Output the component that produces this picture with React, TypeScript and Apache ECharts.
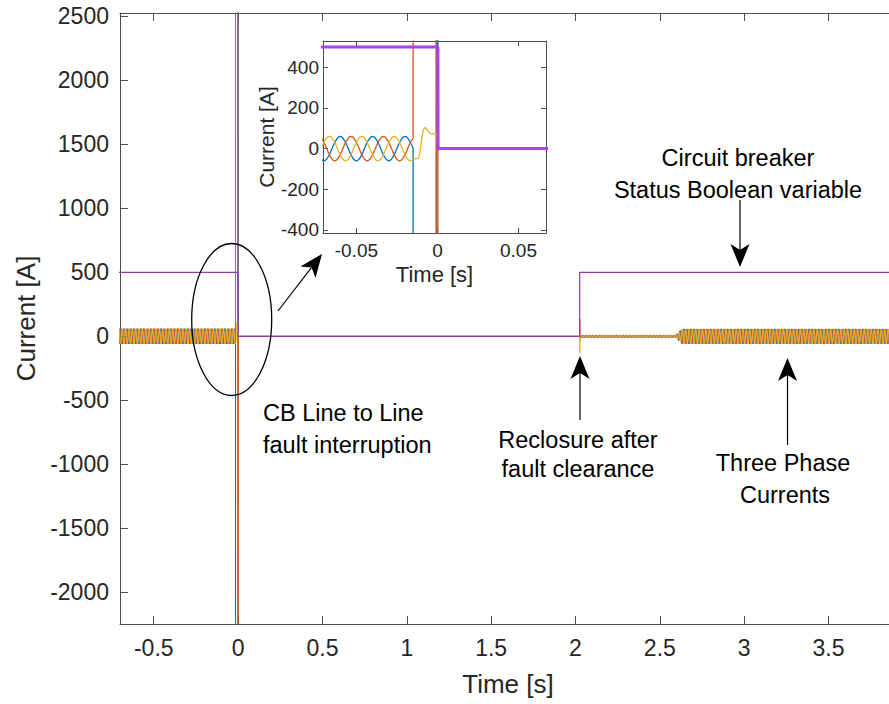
import React, { useEffect, useRef } from "react";
import * as echarts from "echarts";

// ---------- axis ticks ----------
const xTickValues = [-0.5, 0, 0.5, 1, 1.5, 2, 2.5, 3, 3.5];
const yTickValues = [-2000, -1500, -1000, -500, 0, 500, 1000, 1500, 2000, 2500];
const insetXTickValues = [-0.05, 0, 0.05];
const insetYTickValues = [-400, -200, 0, 200, 400];

// ---------- one 20 ms cycle of a phase current (A), 24 samples ----------
const cycleCurrent = [60, 58, 52, 42, 30, 16, 0, -16, -30, -42, -52, -58, -60, -58, -52, -42, -30, -16, 0, 16, 30, 42, 52, 58];
const cyclePeriod = 0.02;
// sample offsets of the three phases: blue, orange, yellow
const phaseOffsets = [0, 16, 8];

// ---------- amplitude envelope (A), step changes ----------
const envelopeStart = [-0.72, 2.025, 2.6, 2.61, 2.62, 2.63];
const envelopeAmp = [60, 11, 20, 34, 47, 58];

const waveStart = -0.72;
const faultTime = -0.015;
const recloseWaveStart = 2.0265;
const waveEnd = 3.95;

// ---------- transients after the fault (time s, current A) ----------
const blueFault = [[-0.0149, -4000], [-0.0004, -4000], [-0.0003, 4000], [0.0002, 4000], [0.0003, 0], [2.025, 0]];
const orangeFault = [[-0.0149, 4000], [-0.0009, 4000], [-0.0008, -4000], [0.0002, -4000], [0.0003, 0], [2.025, 0]];
const yellowFault = [
  [-0.0149, -52], [-0.0118, -48], [-0.0108, -20], [-0.0098, 40], [-0.0088, 88], [-0.0079, 104],
  [-0.0068, 98], [-0.0055, 82], [-0.0042, 74], [-0.003, 72], [-0.0015, 73], [-0.0004, 72], [0.0, 0], [2.025, 0],
];
// ---------- reclosure spikes ----------
const blueReclose = [[2.0254, -40], [2.026, 8]];
const orangeReclose = [[2.0254, 135], [2.026, 30]];
const yellowReclose = [[2.0254, -130], [2.026, -25]];

// ---------- circuit breaker status ----------
const breakerStatus = [[-0.72, 500], [0.0003, 500], [0.0004, 0], [2.025, 0], [2.0251, 500], [3.95, 500]];

const colors = { blue: "#0072BD", orange: "#D95319", yellow: "#EDB120", purple: "#8A3E9E", insetPurple: "#A940F5" };
const FONT = '"Liberation Sans", Arial, Helvetica, sans-serif';
const TXT = "#262626";
const AX = "#4d4d4d";

function ampAt(t: number) {
  let a = envelopeAmp[0];
  for (let i = 0; i < envelopeStart.length; i++) if (t >= envelopeStart[i] - 1e-9) a = envelopeAmp[i];
  return a;
}

function buildPhase(p: number, fault: number[][], reclose: number[][], stride: number, lo: number, hi: number) {
  const n = cycleCurrent.length;
  const dt = cyclePeriod / n;
  const off = phaseOffsets[p];
  const pts: number[][] = [];
  const kFault = Math.round((faultTime - waveStart) / dt);
  for (let k = 0; k <= kFault; k += stride) {
    const t = waveStart + k * dt;
    if (t < lo || t > hi) continue;
    pts.push([t, (cycleCurrent[(k + off) % n] * ampAt(t)) / cycleCurrent[0]]);
  }
  pts.push(...fault, ...reclose);
  const kRe = Math.ceil((recloseWaveStart - waveStart) / dt);
  const kEnd = Math.floor((waveEnd - waveStart) / dt);
  for (let k = kRe; k <= kEnd; k += stride) {
    const t = waveStart + k * dt;
    if (t < lo || t > hi) continue;
    pts.push([t, (cycleCurrent[(k + off) % n] * ampAt(t)) / cycleCurrent[0]]);
  }
  return pts;
}

function arrow(x1: number, y1: number, x2: number, y2: number) {
  const L = 23, W = 9.5, N = 6;
  const dx = x2 - x1, dy = y2 - y1;
  const len = Math.hypot(dx, dy);
  const ux = dx / len, uy = dy / len;
  const px = -uy, py = ux;
  const bx = x2 - ux * L, by = y2 - uy * L;
  const nx = x2 - ux * (L - N), ny = y2 - uy * (L - N);
  return [
    { type: "line", shape: { x1, y1, x2: nx, y2: ny }, style: { stroke: "#000", lineWidth: 1.2 } },
    {
      type: "polygon",
      shape: { points: [[x2, y2], [bx + px * W, by + py * W], [nx, ny], [bx - px * W, by - py * W]] },
      style: { fill: "#000" },
    },
  ];
}

function txt(x: number, y: number, s: string, align: string) {
  return {
    type: "text",
    x,
    y,
    style: { text: s, font: `23.5px ${FONT}`, fill: "#000", align, verticalAlign: "middle" },
  };
}

export default function App() {
  const ref = useRef<HTMLDivElement>(null);
  useEffect(() => {
    if (!ref.current) return;
    const chart = echarts.init(ref.current, null, { renderer: "svg" });
    const fmt = (v: number) => String(v);

    const mainX = { min: -0.7, max: 3.9 };
    const mainY = { min: -2248, max: 2527 };
    const inX = { min: -0.0706, max: 0.067 };
    const inY = { min: -415, max: 529 };

    const tickStyle = { color: AX, width: 1 };
    const lineStyleAx = { color: AX, width: 1 };

    const mainSeries = [
      buildPhase(0, blueFault, blueReclose, 2, -10, 10),
      buildPhase(1, orangeFault, orangeReclose, 2, -10, 10),
      buildPhase(2, yellowFault, yellowReclose, 2, -10, 10),
    ];
    const insetSeries = [
      buildPhase(0, blueFault, blueReclose, 1, -0.08, 0.08),
      buildPhase(1, orangeFault, orangeReclose, 1, -0.08, 0.08),
      buildPhase(2, yellowFault, yellowReclose, 1, -0.08, 0.08),
    ];
    const phaseColors = [colors.blue, colors.orange, colors.yellow];

    const option: any = {
      animation: false,
      backgroundColor: "#fff",
      textStyle: { fontFamily: FONT },
      grid: [
        { left: 120, top: 13, width: 776, height: 611, show: false },
        { left: 323, top: 41, width: 223, height: 192, show: true, backgroundColor: "#fff", borderWidth: 0 },
      ],
      xAxis: [
        {
          type: "value", gridIndex: 0, position: "bottom", ...mainX,
          axisLine: { show: true, onZero: false, lineStyle: lineStyleAx },
          axisTick: { show: true, inside: true, length: 8, customValues: xTickValues, lineStyle: tickStyle },
          axisLabel: { customValues: xTickValues, formatter: fmt, fontSize: 23, color: TXT, margin: 12, fontFamily: FONT },
          splitLine: { show: false },
          name: "Time [s]", nameLocation: "middle", nameGap: 47,
          nameTextStyle: { fontSize: 26, color: TXT, fontFamily: FONT },
        },
        {
          type: "value", gridIndex: 0, position: "top", ...mainX,
          axisLine: { show: true, onZero: false, lineStyle: lineStyleAx },
          axisTick: { show: true, inside: true, length: 8, customValues: xTickValues, lineStyle: tickStyle },
          axisLabel: { show: false },
          splitLine: { show: false },
        },
        {
          type: "value", gridIndex: 1, position: "bottom", ...inX,
          axisLine: { show: true, onZero: false, lineStyle: lineStyleAx },
          axisTick: { show: true, inside: true, length: 5, customValues: insetXTickValues, lineStyle: tickStyle },
          axisLabel: { customValues: insetXTickValues, formatter: fmt, fontSize: 19, color: TXT, margin: 8, fontFamily: FONT },
          splitLine: { show: false },
          name: "Time [s]", nameLocation: "middle", nameGap: 30,
          nameTextStyle: { fontSize: 22, color: TXT, fontFamily: FONT },
        },
        {
          type: "value", gridIndex: 1, position: "top", ...inX,
          axisLine: { show: true, onZero: false, lineStyle: lineStyleAx },
          axisTick: { show: true, inside: true, length: 5, customValues: insetXTickValues, lineStyle: tickStyle },
          axisLabel: { show: false },
          splitLine: { show: false },
        },
      ],
      yAxis: [
        {
          type: "value", gridIndex: 0, position: "left", ...mainY,
          axisLine: { show: true, onZero: false, lineStyle: lineStyleAx },
          axisTick: { show: true, inside: true, length: 8, customValues: yTickValues, lineStyle: tickStyle },
          axisLabel: { customValues: yTickValues, formatter: fmt, fontSize: 23, color: TXT, margin: 11, fontFamily: FONT },
          splitLine: { show: false },
          name: "Current [A]", nameLocation: "middle", nameGap: 77, nameRotate: 90,
          nameTextStyle: { fontSize: 26, color: TXT, fontFamily: FONT },
        },
        {
          type: "value", gridIndex: 1, position: "left", ...inY,
          axisLine: { show: true, onZero: false, lineStyle: lineStyleAx },
          axisTick: { show: true, inside: true, length: 5, customValues: insetYTickValues, lineStyle: tickStyle },
          axisLabel: { customValues: insetYTickValues, formatter: fmt, fontSize: 19, color: TXT, margin: 4, fontFamily: FONT },
          splitLine: { show: false },
          name: "Current [A]", nameLocation: "middle", nameGap: 44, nameRotate: 90,
          nameTextStyle: { fontSize: 21, color: TXT, fontFamily: FONT },
        },
        {
          type: "value", gridIndex: 1, position: "right", ...inY,
          axisLine: { show: true, onZero: false, lineStyle: lineStyleAx },
          axisTick: { show: true, inside: true, length: 5, customValues: insetYTickValues, lineStyle: tickStyle },
          axisLabel: { show: false },
          splitLine: { show: false },
        },
      ],
      series: [
        ...mainSeries.map((d, i) => ({
          type: "line", xAxisIndex: 0, yAxisIndex: 0, data: d, showSymbol: false, symbol: "none",
          lineStyle: { color: phaseColors[i], width: 1 }, clip: true, silent: true,
        })),
        {
          type: "line", xAxisIndex: 0, yAxisIndex: 0, data: breakerStatus, showSymbol: false, symbol: "none",
          lineStyle: { color: colors.purple, width: 1.2 }, clip: true, silent: true,
        },
        ...insetSeries.map((d, i) => ({
          type: "line", xAxisIndex: 2, yAxisIndex: 1, data: d, showSymbol: false, symbol: "none",
          lineStyle: { color: phaseColors[i], width: 1.3 }, clip: true, silent: true, z: 5,
        })),
        {
          type: "line", xAxisIndex: 2, yAxisIndex: 1, data: breakerStatus, showSymbol: false, symbol: "none",
          lineStyle: { color: colors.insetPurple, width: 3 }, clip: true, silent: true, z: 5,
        },
      ],
      graphic: [
        {
          type: "ellipse", shape: { cx: 231.7, cy: 319.5, rx: 40, ry: 76 },
          style: { fill: "none", stroke: "#000", lineWidth: 1.3 }, z: 100,
        },
        ...arrow(278, 311, 322, 254),
        ...arrow(580, 420, 580, 356),
        ...arrow(787.5, 445, 787.5, 358),
        ...arrow(740, 200, 740, 267),
        txt(263, 413, "CB Line to Line", "left"),
        txt(263, 445, "fault interruption", "left"),
        txt(578, 440, "Reclosure after", "center"),
        txt(578, 469, "fault clearance", "center"),
        txt(783, 463, "Three Phase", "center"),
        txt(785, 495, "Currents", "center"),
        txt(738, 158, "Circuit breaker", "center"),
        txt(738, 190, "Status Boolean variable", "center"),
      ],
    };
    chart.setOption(option);
    return () => chart.dispose();
  }, []);

  return (
    <div style={{ position: "fixed", left: 0, top: 0, width: 889, height: 704, overflow: "hidden", background: "#fff" }}>
      <div ref={ref} style={{ width: 897, height: 704 }} />
    </div>
  );
}
